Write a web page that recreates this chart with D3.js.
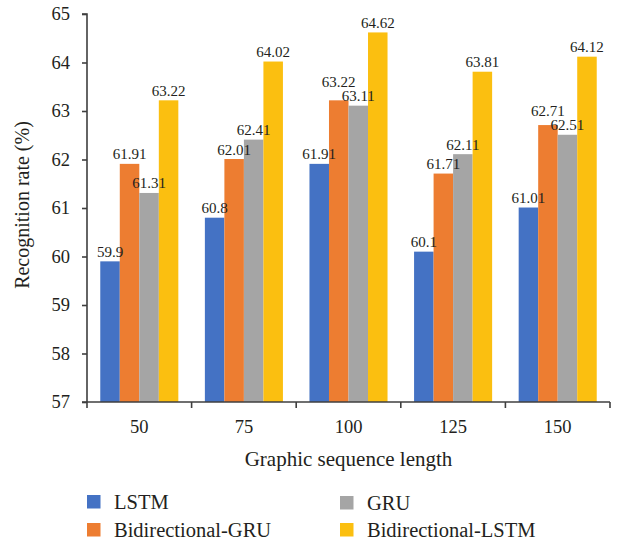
<!DOCTYPE html>
<html>
<head>
<meta charset="utf-8">
<script src="https://cdn.jsdelivr.net/npm/d3@7"></script>
<style>
  html, body { margin: 0; padding: 0; background: #fff; }
  svg { display: block; }
  svg text { font-family: "Liberation Serif", "DejaVu Serif", serif; fill: #231f20; }
</style>
</head>
<body>
<svg id="chart" width="622" height="541" font-family="Liberation Serif"></svg>
<script>
// Sequence lengths on the x axis
const categories = ["50", "75", "100", "125", "150"];
const seriesNames = ["LSTM", "Bidirectional-GRU", "GRU", "Bidirectional-LSTM"];
const lstm = [59.9, 60.8, 61.91, 60.1, 61.01];
const biGru = [61.91, 62.01, 63.22, 61.71, 62.71];
const gru = [61.31, 62.41, 63.11, 62.11, 62.51];
const biLstm = [63.22, 64.02, 64.62, 63.81, 64.12];
const yTicks = [57, 58, 59, 60, 61, 62, 63, 64, 65];
const colors = ["#4472c4", "#ed7d31", "#a5a5a5", "#fbbf10"];

const series = [lstm, biGru, gru, biLstm];

const svg = d3.select("#chart");
const plotLeft = 87, plotRight = 610, plotTop = 14, plotBottom = 402;

const x = d3.scaleBand().domain(categories).range([plotLeft, plotRight]).paddingInner(0).paddingOuter(0);
const inner = d3.scaleBand().domain(d3.range(series.length)).range([0, x.bandwidth()]).paddingOuter(0.68).paddingInner(0);
const y = d3.scaleLinear().domain([57, 65]).range([plotBottom, plotTop]);

// Bars
categories.forEach((c, i) => {
  series.forEach((s, j) => {
    svg.append("rect")
      .attr("x", x(c) + inner(j)).attr("y", y(s[i]))
      .attr("width", inner.bandwidth()).attr("height", y(57) - y(s[i]))
      .attr("fill", colors[j]);
  });
});

// Value labels: sit just above each bar; when two neighbouring labels would
// collide, the label of the taller bar is lifted clear of the other one.
const labelGap = 4.5, labelSep = 14;
categories.forEach((c, i) => {
  const ys = series.map(s => y(s[i]) - labelGap);
  for (let j = 0; j < series.length - 1; j++) {
    const a = j, b = j + 1;
    if (Math.abs(ys[a] - ys[b]) < labelSep) {
      if (ys[a] < ys[b]) ys[a] = ys[b] - labelSep; else ys[b] = ys[a] - labelSep;
    }
  }
  series.forEach((s, j) => {
    svg.append("text")
      .attr("x", x(c) + inner(j) + inner.bandwidth() / 2).attr("y", ys[j])
      .attr("text-anchor", "middle").attr("font-size", 15)
      .text(s[i]);
  });
});

// Y axis
const yAxis = d3.axisLeft(y).tickValues(yTicks).tickSize(5).tickPadding(12).tickFormat(d3.format("d"));
const yg = svg.append("g").attr("transform", `translate(${plotLeft},0)`).call(yAxis)
  .attr("font-family", null).attr("font-size", null);
yg.select(".domain").attr("stroke", "#3f3f3f").attr("stroke-width", 1.6).attr("d", `M-5,${plotTop}H0V${plotBottom}`);
yg.selectAll(".tick line").attr("stroke", "#3f3f3f").attr("stroke-width", 1.6);
yg.selectAll(".tick text").attr("font-size", 18.5).attr("fill", "#231f20");

// X axis with ticks on category boundaries
const xg = svg.append("g").attr("transform", `translate(0,${plotBottom})`);
xg.append("line").attr("x1", plotLeft - 5).attr("x2", plotRight).attr("stroke", "#3f3f3f").attr("stroke-width", 1.6);
const bounds = categories.map(c => x(c)).concat([plotRight]);
xg.selectAll("line.tick").data(bounds).join("line")
  .attr("class", "tick")
  .attr("x1", d => d).attr("x2", d => d).attr("y1", 0).attr("y2", 6)
  .attr("stroke", "#3f3f3f").attr("stroke-width", 1.6);
xg.selectAll("text.lbl").data(categories).join("text")
  .attr("class", "lbl")
  .attr("x", d => x(d) + x.bandwidth() / 2).attr("y", 31)
  .attr("text-anchor", "middle").attr("font-size", 18.5)
  .text(d => d);

// Axis titles
svg.append("text").attr("x", (plotLeft + plotRight) / 2).attr("y", 466)
  .attr("text-anchor", "middle").attr("font-size", 21).text("Graphic sequence length");
svg.append("text").attr("transform", "translate(29,205) rotate(-90)")
  .attr("text-anchor", "middle").attr("font-size", 20).text("Recognition rate (%)");

// Legend
const legendPos = [[87, 495], [87, 523], [340, 496], [340, 523]];
seriesNames.forEach((name, j) => {
  const [lx, ly] = legendPos[j];
  svg.append("rect").attr("x", lx).attr("y", ly).attr("width", 13.5).attr("height", 13.5).attr("fill", colors[j]);
  svg.append("text").attr("x", lx + 27).attr("y", ly + 14).attr("font-size", 20.5).text(name);
});
</script>
</body>
</html>
